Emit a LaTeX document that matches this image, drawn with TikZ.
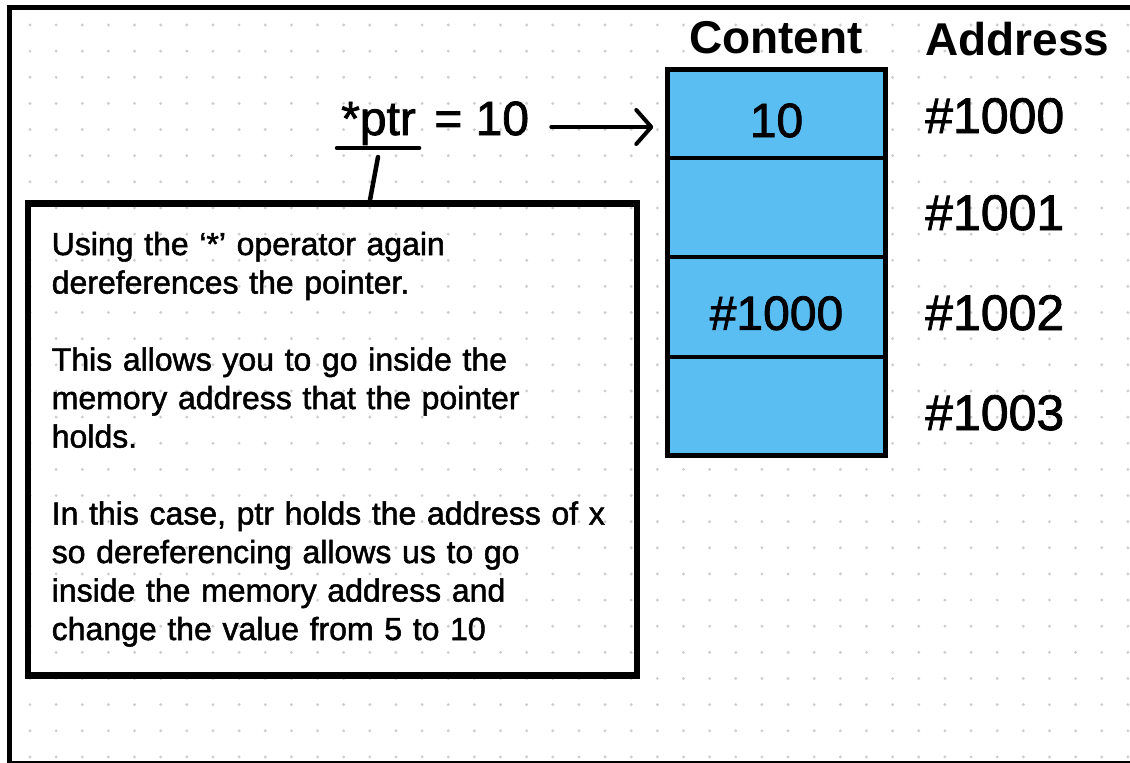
\documentclass[tikz,border=0pt]{standalone}
\usepackage{fontspec}
\setmainfont{Liberation Sans}
\newfontfamily\medium{Liberation Sans}[FakeBold=1.6]
\usetikzlibrary{arrows.meta, positioning}

\definecolor{cellblue}{RGB}{90,190,242}
\definecolor{dotgrey}{RGB}{205,205,205}

\tikzset{
  memcell/.style={rectangle, fill=cellblue, minimum width=218pt, inner sep=0pt,
    text height=46pt, text depth=0pt, font=\medium\fontsize{48}{48}\selectfont},
  addrlabel/.style={anchor=base west, inner sep=0pt, font=\medium\fontsize{50}{50}\selectfont},
  colhead/.style={inner sep=0pt, font=\fontsize{46}{46}\selectfont\bfseries},
  exprtext/.style={inner sep=0pt, font=\medium\fontsize{48}{48}\selectfont},
  notebox/.style={rectangle, draw, line width=6.5pt, align=left, text width=561pt,
    minimum width=609pt, minimum height=472pt, inner sep=0pt,
    font=\medium\fontsize{32}{38.5}\selectfont},
  pointer/.style={line width=4pt, line cap=round,
    -{Straight Barb[length=15pt,width=34pt,line cap=round,line join=round]}},
  link/.style={line width=4.5pt, line cap=round},
}

\begin{document}
\begin{tikzpicture}[x=1pt, y=-1pt]
\useasboundingbox (0,0) rectangle (1130,763);

% dotted paper
\foreach \i in {0,...,42}
  \foreach \j in {0,...,28}
    \fill[dotgrey] ({30+26.14*\i},{25+26.14*\j}) circle (1.6pt);

% frame
\draw[line width=5.5pt] (1130,7.5) -- (9.5,7.5) -- (9.5,763);
\draw[line width=2.5pt] (9.5,762) -- (1130,762);

% memory column
\node[colhead, anchor=base] (contenthead) at (776,53) {Content};
\node[colhead, anchor=base west] (addresshead) at (925,55) {Address};

\node[memcell, minimum height=88pt] (cell0) at (776.5,114) {10};
\node[memcell, minimum height=98pt, below=0pt of cell0] (cell1) {};
\node[memcell, minimum height=100pt, below=0pt of cell1] (cell2) {\#1000};
\node[memcell, minimum height=98pt, below=0pt of cell2] (cell3) {};
\draw[line width=5pt] (cell0.north west) rectangle (cell3.south east);
\foreach \c in {0,1,2}
  \draw[line width=4pt] ([xshift=3pt]cell\c.south west) -- ([xshift=-3pt]cell\c.south east);

\foreach \a/\y in {1000/133, 1001/230, 1002/330, 1003/430}
  \node[addrlabel] (addr\a) at (925,\y) {\#\a};

% expression
\node[exprtext, anchor=base west] (deref) at (341,135) {*ptr};
\node[exprtext, base right=18pt of deref] (assign) {= 10};
\draw[link] ([shift={(-4pt,-13pt)}]deref.base west) -- ([shift={(3pt,-13pt)}]deref.base east);

\coordinate (arrowstart) at ([yshift=8pt]assign.base east);
\draw[pointer, shorten <=22pt, shorten >=14pt] (arrowstart) -- (arrowstart -| cell0.west);

% explanation
\node[notebox, anchor=north west] (note) at (24.5,200) {%
  Using the ‘*’ operator again\\
  dereferences the pointer.\\[38.5pt]
  This allows you to go inside the\\
  memory address that the pointer\\
  holds.\\[38.5pt]
  In this case, ptr holds the address of x\\
  so dereferencing allows us to go\\
  inside the memory address and\\
  change the value from 5 to 10};

\coordinate (tick) at (378,157);
\draw[link] (tick) -- ([xshift=-8pt]tick |- note.north);
\end{tikzpicture}
\end{document}
